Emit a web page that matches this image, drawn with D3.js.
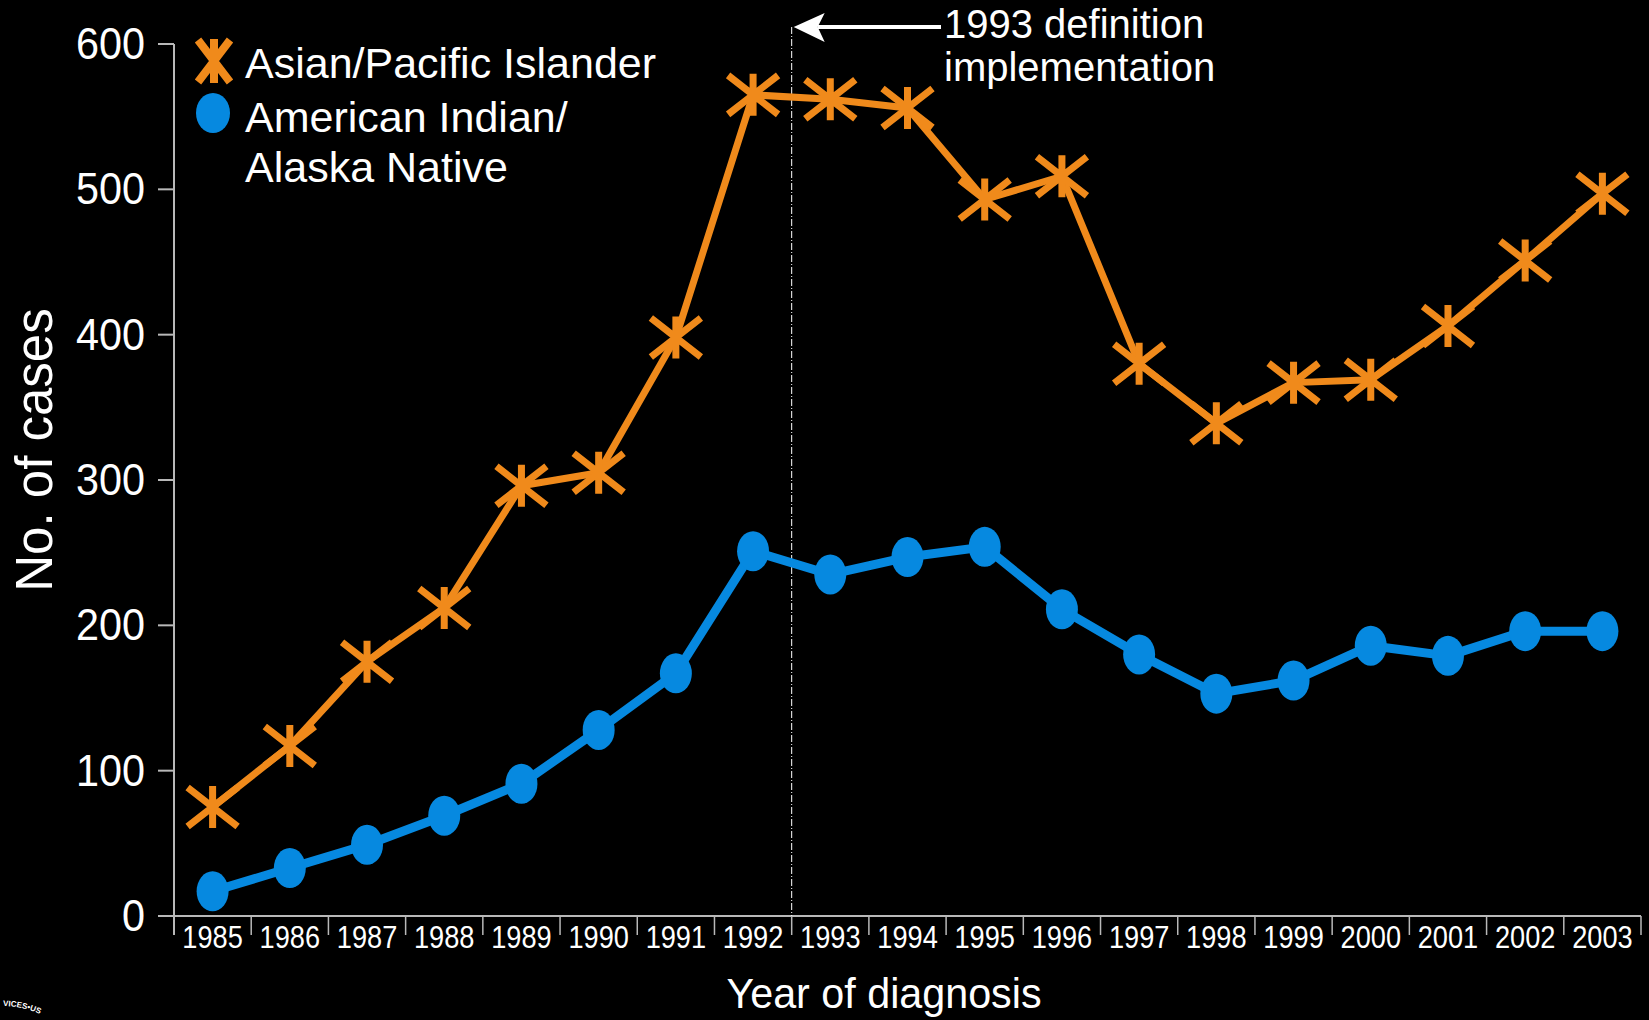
<!DOCTYPE html>
<html><head><meta charset="utf-8">
<script src="https://cdn.jsdelivr.net/npm/d3@7"></script>
<style>
body{margin:0;background:#000;}
svg{display:block;background:#000;}
text{font-family:"Liberation Sans",Arial,Helvetica,sans-serif;fill:#fff;}
</style>
</head><body>
<svg id="chart" width="1649" height="1020"></svg>
<script>
// ---- data ----
const years = [1985,1986,1987,1988,1989,1990,1991,1992,1993,1994,1995,1996,1997,1998,1999,2000,2001,2002,2003];
const asianPacificIslander = [75,117,175,212,296,305,398,565,562,556,493,509,380,339,367,369,406,451,497];
const americanIndianAlaskaNative = [17,33,49,69,91,128,167,251,235,247,254,211,180,153,162,186,179,196,196];
const yTickValues = [0,100,200,300,400,500,600];
const legendLines = ["Asian/Pacific Islander","American Indian/","Alaska Native"];
const annotationLines = ["1993 definition","implementation"];
const annotationYear = 1993;
const xTitle = "Year of diagnosis";
const yTitle = "No. of cases";
const sealText = "VICES\u2022US";

const ORANGE = "#F08A1B", BLUE = "#0689E0", AXIS = "#B8B8B8";

const svg = d3.select("#chart");
const x = d3.scaleBand().domain(years).range([174,1641]).padding(0);
const y = d3.scaleLinear().domain([0,600]).range([916,44]);
const cx = d => x(d) + x.bandwidth()/2;

// ---- axes ----
const gAx = svg.append("g");
gAx.append("line").attr("x1",174).attr("x2",174).attr("y1",y(600)).attr("y2",y(0)+19)
  .attr("stroke",AXIS).attr("stroke-width",2);
gAx.selectAll(".yt").data(yTickValues).enter().append("line")
  .attr("x1",158).attr("x2",174).attr("y1",d=>y(d)).attr("y2",d=>y(d))
  .attr("stroke",AXIS).attr("stroke-width",2);
gAx.selectAll(".yl").data(yTickValues).enter().append("text")
  .attr("transform",d=>`translate(145,${y(d)+15}) scale(0.94,1)`).attr("text-anchor","end")
  .attr("font-size",44).text(d=>d);
gAx.append("line").attr("x1",158).attr("x2",1641).attr("y1",y(0)).attr("y2",y(0))
  .attr("stroke",AXIS).attr("stroke-width",2);
const boundaries = years.map(d=>x(d)).concat([x(years[years.length-1])+x.bandwidth()]);
gAx.selectAll(".xt").data(boundaries.slice(1)).enter().append("line")
  .attr("x1",d=>d).attr("x2",d=>d).attr("y1",y(0)).attr("y2",y(0)+19)
  .attr("stroke",AXIS).attr("stroke-width",1.5);
gAx.selectAll(".xl").data(years).enter().append("text")
  .attr("transform",d=>`translate(${cx(d)},948) scale(0.85,1)`)
  .attr("text-anchor","middle").attr("font-size",32).text(d=>d);

// titles
svg.append("text").attr("transform","translate(884,1008) scale(0.96,1)").attr("text-anchor","middle")
  .attr("font-size",43).text(xTitle);
svg.append("text").attr("transform","translate(52,450) rotate(-90)")
  .attr("text-anchor","middle").attr("font-size",51).text(yTitle);

// ---- annotation ----
const annX = x(annotationYear);
svg.append("line").attr("x1",annX).attr("x2",annX).attr("y1",27).attr("y2",y(0))
  .attr("stroke","#fff").attr("stroke-width",1).attr("stroke-dasharray","7,2,1,2");
svg.append("line").attr("x1",annX+26).attr("x2",941).attr("y1",27).attr("y2",27)
  .attr("stroke","#fff").attr("stroke-width",4);
svg.append("path").attr("d",`M${annX+2},27 L${annX+33},13 L${annX+26},27 L${annX+33},42 Z`).attr("fill","#fff");
svg.selectAll(".ann").data(annotationLines).enter().append("text")
  .attr("x",944).attr("y",(d,i)=>38+i*43).attr("font-size",40).text(d=>d);

// ---- lines ----
const line = d3.line().x((d,i)=>cx(years[i])).y(d=>y(d));
svg.append("path").datum(americanIndianAlaskaNative).attr("d",line)
  .attr("fill","none").attr("stroke",BLUE).attr("stroke-width",9).attr("stroke-linejoin","round");
svg.append("path").datum(asianPacificIslander).attr("d",line)
  .attr("fill","none").attr("stroke",ORANGE).attr("stroke-width",7).attr("stroke-linejoin","round");

svg.selectAll(".dot").data(americanIndianAlaskaNative).enter().append("ellipse")
  .attr("cx",(d,i)=>cx(years[i])).attr("cy",d=>y(d)).attr("rx",16).attr("ry",20).attr("fill",BLUE);
const star = "M0,-21V21M-25,-19.5L25,19.5M-25,19.5L25,-19.5";
svg.selectAll(".star").data(asianPacificIslander).enter().append("path")
  .attr("d",star).attr("transform",(d,i)=>`translate(${cx(years[i])},${y(d)})`)
  .attr("stroke",ORANGE).attr("stroke-width",7).attr("fill","none");

// ---- legend ----
svg.append("path").attr("d","M0,-22V22M-16,-21L16,21M-16,21L16,-21")
  .attr("transform","translate(214,61)").attr("stroke",ORANGE).attr("stroke-width",8).attr("fill","none");
svg.append("ellipse").attr("cx",213).attr("cy",113).attr("rx",17).attr("ry",20).attr("fill",BLUE);
svg.selectAll(".leg").data(legendLines).enter().append("text")
  .attr("x",245).attr("y",(d,i)=>[78,132,182][i]).attr("font-size",43).text(d=>d);

// ---- seal fragment bottom-left ----
const defs = svg.append("defs");
defs.append("path").attr("id","sealArc").attr("d","M3,1006 A92,92 0 0,1 42,1015");
svg.append("text").attr("font-size",8).attr("font-weight","bold")
  .append("textPath").attr("href","#sealArc").attr("startOffset","0").text(sealText);
</script>
</body></html>
